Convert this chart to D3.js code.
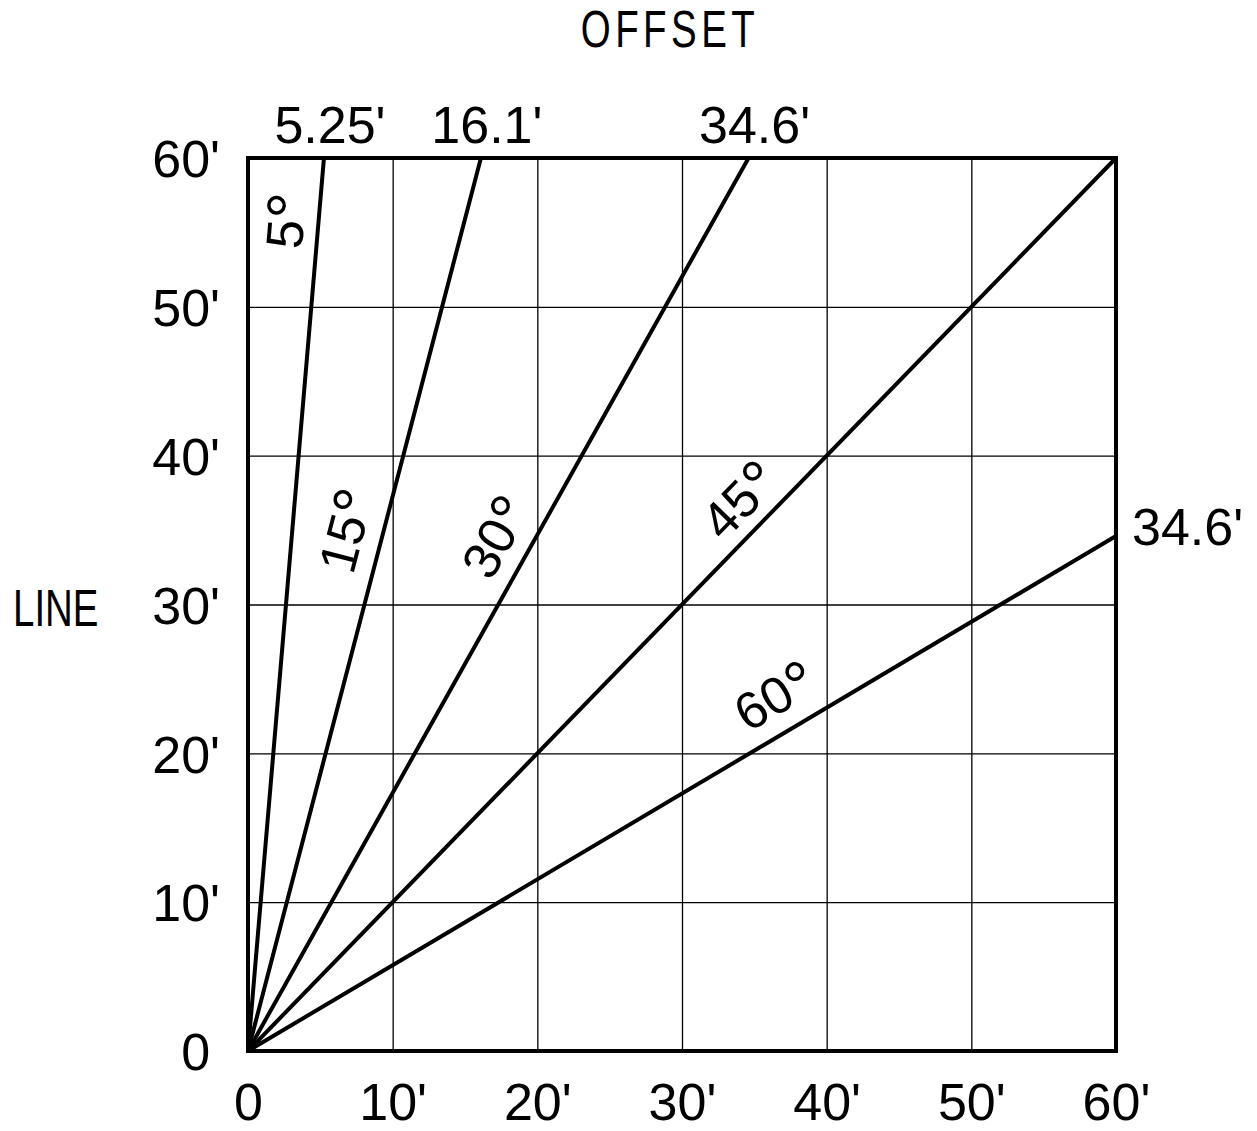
<!DOCTYPE html>
<html>
<head>
<meta charset="utf-8">
<script src="https://cdn.jsdelivr.net/npm/d3@7"></script>
<style>
  html, body { margin: 0; padding: 0; background: #fff; }
  svg text { font-family: "Liberation Sans", Arimo, Arial, sans-serif; fill: #000; }
</style>
</head>
<body>
<svg id="chart" width="1257" height="1131"></svg>
<script>
// Grid ticks (feet) for both axes
const offsetTicks = [0, 10, 20, 30, 40, 50, 60];
const lineTicks = [0, 10, 20, 30, 40, 50, 60];

// Angle rays from the origin: angle (deg), offset and line at the ray's end (feet)
const angles = [5, 15, 30, 45, 60];
const endOffset = [5.25, 16.1, 34.6, 60, 60];
const endLine = [60, 60, 60, 60, 34.6];

const svg = d3.select("#chart");

const x = d3.scaleLinear().domain([0, 60]).range([248, 1116]);
const y = d3.scaleLinear().domain([0, 60]).range([1051, 158]);

const fmt = d => d === 0 ? "0" : d + "'";
const FS = 52;

// grid
svg.append("g")
  .attr("transform", `translate(0,${y(0)})`)
  .call(d3.axisBottom(x).tickValues(offsetTicks.slice(1, -1)).tickSize(-(y(0) - y(60))).tickFormat(""))
  .call(g => g.select(".domain").remove())
  .call(g => g.selectAll("line").attr("stroke", "#000").attr("stroke-width", 1.3));

svg.append("g")
  .attr("transform", `translate(${x(0)},0)`)
  .call(d3.axisLeft(y).tickValues(lineTicks.slice(1, -1)).tickSize(-(x(60) - x(0))).tickFormat(""))
  .call(g => g.select(".domain").remove())
  .call(g => g.selectAll("line").attr("stroke", "#000").attr("stroke-width", 1.3));

// bottom tick labels
svg.append("g")
  .attr("transform", `translate(0,${y(0)})`)
  .call(d3.axisBottom(x).tickValues(offsetTicks).tickSize(0).tickPadding(32).tickFormat(fmt))
  .call(g => g.select(".domain").remove())
  .call(g => g.selectAll("text").attr("font-size", FS).attr("dy", "0.71em")
    .attr("font-family", null));

// left tick labels
svg.append("g")
  .attr("transform", `translate(${x(0)},0)`)
  .call(d3.axisLeft(y).tickValues(lineTicks).tickSize(0).tickPadding(28).tickFormat(fmt))
  .call(g => g.select(".domain").remove())
  .call(g => g.selectAll("text").attr("font-size", FS).attr("dy", "0.36em")
    .attr("font-family", null))
  .call(g => g.selectAll(".tick text").filter(d => d === 0)
    .append("tspan").attr("fill-opacity", 0).text("'"));

// frame
svg.append("rect")
  .attr("x", x(0)).attr("y", y(60))
  .attr("width", x(60) - x(0)).attr("height", y(0) - y(60))
  .attr("fill", "none").attr("stroke", "#000").attr("stroke-width", 4);

// rays
const rays = angles.map((a, i) => ({ a, ox: endOffset[i], ly: endLine[i] }));
svg.append("g").selectAll("line").data(rays).join("line")
  .attr("x1", x(0)).attr("y1", y(0))
  .attr("x2", d => x(d.ox)).attr("y2", d => y(d.ly))
  .attr("stroke", "#000").attr("stroke-width", 4).attr("stroke-linecap", "round");

// angle labels, set along each ray on its upper-left side
const labelAlong = [0.927, 0.573, 0.557, 0.593, 0.629];
const labelGap = [33, 37, 36, 32, 37];
const angleLabels = svg.append("g").selectAll("text").data(rays).join("text")
  .attr("transform", (d, i) => {
    const x0 = x(0), y0 = y(0), x1 = x(d.ox), y1 = y(d.ly);
    const len = Math.hypot(x1 - x0, y1 - y0);
    const ux = (x1 - x0) / len, uy = (y1 - y0) / len;
    const nx = uy, ny = -ux;
    const cx = x0 + ux * len * labelAlong[i] + nx * labelGap[i];
    const cy = y0 + uy * len * labelAlong[i] + ny * labelGap[i];
    const rot = Math.atan2(uy, ux) * 180 / Math.PI;
    return `translate(${cx},${cy}) rotate(${rot})`;
  })
  .attr("text-anchor", "middle")
  .attr("font-size", FS);
angleLabels.append("tspan").attr("dy", "0.36em").text(d => d.a);
angleLabels.append("tspan").attr("font-size", 68).attr("dy", 9).text("°");

// end values: top edge and right edge
svg.append("g").selectAll("text").data(rays.filter(d => d.ly === 60 && d.ox < 60)).join("text")
  .attr("x", d => x(d.ox) + 6).attr("y", y(60) - 15)
  .attr("text-anchor", "middle").attr("font-size", FS)
  .text(d => d.ox + "'");

svg.append("g").selectAll("text").data(rays.filter(d => d.ox === 60 && d.ly < 60)).join("text")
  .attr("x", x(60) + 16).attr("y", d => y(d.ly) + 9)
  .attr("font-size", FS)
  .text(d => d.ly + "'");

// axis titles (narrow lettering)
svg.append("text")
  .attr("transform", "translate(670,47) scale(0.74,1)")
  .attr("text-anchor", "middle").attr("font-size", FS).attr("letter-spacing", 6)
  .text("OFFSET");
svg.append("text")
  .attr("transform", "translate(13,626) scale(0.74,1)")
  .attr("font-size", FS)
  .text("LINE");
</script>
</body>
</html>
